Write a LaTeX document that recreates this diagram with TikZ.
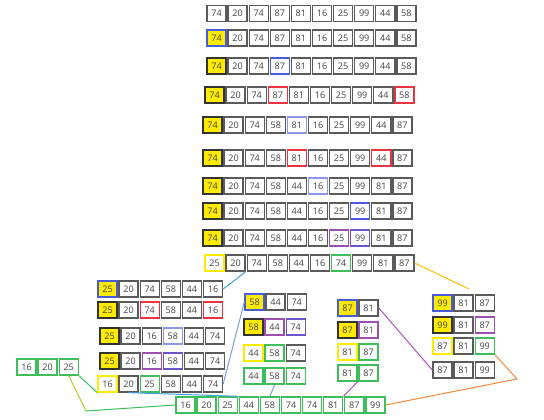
\documentclass[tikz,border=0pt]{standalone}
\usepackage{fontspec}
\setsansfont{Open Sans}
\usetikzlibrary{positioning}

\definecolor{cellgray}{HTML}{5A5A5A}
\definecolor{pivot}{HTML}{FFEB00}
\definecolor{markblue}{HTML}{4A5BD8}
\definecolor{lightblue}{HTML}{8C96E8}
\definecolor{markred}{HTML}{E8343F}
\definecolor{markpurple}{HTML}{9B4FB0}
\definecolor{markgreen}{HTML}{3DBE5A}
\definecolor{linkcyan}{HTML}{41A0DC}
\definecolor{linkblue}{HTML}{7A9CE0}
\definecolor{linkyellow}{HTML}{FFC000}
\definecolor{linklime}{HTML}{A8D42A}
\definecolor{linkpurple}{HTML}{B04FC0}
\definecolor{linkorange}{HTML}{F5873A}

\tikzset{
  cell/.style={draw=cellgray, line width=1pt, minimum width=14.3pt, minimum height=12pt,
    inner sep=0pt, text=black!75, font=\sffamily\fontsize{6.8}{7}\selectfont},
  o/.style={},
  pv/.style={fill=pivot, draw=black!80},
  pb/.style={fill=pivot, draw=markblue},
  yo/.style={draw=pivot},
  bl/.style={draw=markblue},
  lb/.style={draw=lightblue},
  rd/.style={draw=markred},
  pu/.style={draw=markpurple},
  bp/.style={draw=markblue!60!markpurple},
  gr/.style={draw=markgreen},
  link/.style={line width=0.75pt}
}

% one array: name, left x, centre y, entries value/style
\newcommand{\cellrow}[4]{%
  \foreach \v/\s [count=\i] in {#4}
    \node[cell,\s] (#1-\i) at ({#2+10.5+(\i-1)*21.1},#3) {\v};
}

\begin{document}
\begin{tikzpicture}[x=0.75pt, y=-0.75pt]
  \useasboundingbox (0,0) rectangle (544,420);

  % partition of the whole array
  \cellrow{r1}{206}{13.5}{74/o,20/o,74/o,87/o,81/o,16/o,25/o,99/o,44/o,58/o}
  \cellrow{r2}{206}{38}{74/pb,20/o,74/o,87/o,81/o,16/o,25/o,99/o,44/o,58/o}
  \cellrow{r3}{206}{66}{74/pv,20/o,74/o,87/bl,81/o,16/o,25/o,99/o,44/o,58/o}
  \cellrow{r4}{204}{95}{74/pv,20/o,74/o,87/rd,81/o,16/o,25/o,99/o,44/o,58/rd}
  \cellrow{r5}{202}{125}{74/pv,20/o,74/o,58/o,81/lb,16/o,25/o,99/o,44/o,87/o}
  \cellrow{r6}{202}{158}{74/pv,20/o,74/o,58/o,81/rd,16/o,25/o,99/o,44/rd,87/o}
  \cellrow{r7}{202}{186}{74/pv,20/o,74/o,58/o,44/o,16/lb,25/o,99/o,81/o,87/o}
  \cellrow{r8}{202}{211}{74/pv,20/o,74/o,58/o,44/o,16/o,25/o,99/bl,81/o,87/o}
  \cellrow{r9}{202}{238}{74/pv,20/o,74/o,58/o,44/o,16/o,25/pu,99/bp,81/o,87/o}
  \cellrow{r10}{204}{263}{25/yo,20/o,74/o,58/o,44/o,16/o,74/gr,99/o,81/o,87/o}

  % left part
  \cellrow{la}{97}{289}{25/pb,20/o,74/o,58/o,44/o,16/o}
  \cellrow{lb}{97}{310}{25/pv,20/o,74/rd,58/o,44/o,16/rd}
  \cellrow{lc}{99}{336}{25/pv,20/o,16/o,58/lb,44/o,74/o}
  \cellrow{ld}{99}{361}{25/pv,20/o,16/pu,58/bp,44/o,74/o}
  \cellrow{le}{97}{384}{16/yo,20/o,25/gr,58/o,44/o,74/o}
  \cellrow{f}{16}{367}{16/gr,20/gr,25/gr}

  % middle parts
  \cellrow{m1}{244}{302}{58/pb,44/o,74/o}
  \cellrow{m2}{243}{327}{58/pv,44/pu,74/bp}
  \cellrow{m3}{243}{353}{44/yo,58/gr,74/o}
  \cellrow{m4}{243}{376}{44/gr,58/gr,74/gr}
  \cellrow{n1}{337}{308}{87/pb,81/o}
  \cellrow{n2}{337}{330}{87/pv,81/pu}
  \cellrow{n3}{337}{352}{81/yo,87/gr}
  \cellrow{n4}{337}{373}{81/gr,87/gr}

  % right part
  \cellrow{ra1}{432}{303}{99/pb,81/o,87/o}
  \cellrow{ra2}{432}{325}{99/pv,81/o,87/pu}
  \cellrow{ra3}{432}{346}{87/yo,81/o,99/gr}
  \cellrow{ra4}{432}{370}{87/o,81/o,99/o}

  % result
  \cellrow{fin}{175}{405}{16/gr,20/gr,25/gr,44/gr,58/gr,74/gr,74/gr,81/gr,87/gr,99/gr}

  \coordinate (rtop) at (469,289);
  \coordinate (fbend) at (86,411);
  \coordinate (obend) at (517,379);

  \draw[link, linkcyan] (r10-2.south east) -- (la-6.east);
  \draw[link, linkyellow] (r10-10.east) -- (rtop);
  \draw[link, linkblue] (m1-1.west) -- (le-6.east);
  \draw[link, markgreen] (f-3.south east) -- (le-1.south west);
  \draw[link, linklime] (f-3.south) -- (fbend);
  \draw[link, markgreen] (fbend) -- (fin-1.west);
  \draw[link, linkcyan] (le-2.south) -- (fin-4.north west);
  \draw[link, linkblue] (m4-2.south) -- (fin-5.north);
  \draw[link, linkpurple] (n4-1.south east) -- (fin-8.north east);
  \draw[link, linkpurple] (n1-2.east) -- (ra4-1.west);
  \draw[link, linkorange] (ra3-3.south east) -- (obend) -- (fin-10.east);
\end{tikzpicture}
\end{document}
